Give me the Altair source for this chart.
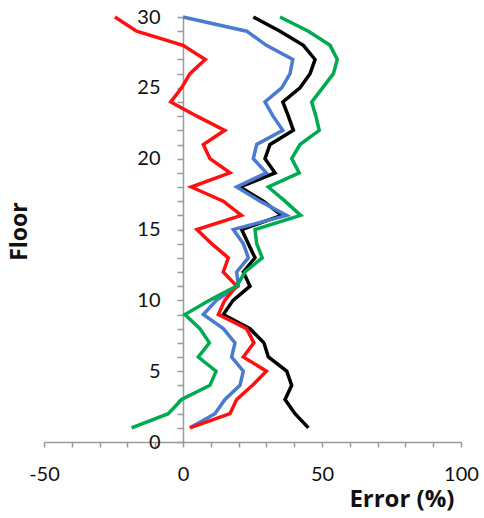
import altair as alt
import pandas as pd

floors = list(range(1, 31))
red = [2.5, 16.9, 19.3, 25, 30, 21.7, 25.5, 22.9, 12.7, 15, 19.3, 14.5, 16.3, 10.3, 5, 21, 14.5, 3, 16.9, 9.7,
       7.3, 15, 5, -4.4, -0.5, 2.5, 8, 0, -16.7, -24.5]
blue = [2.5, 11.5, 15.1, 20.5, 21.7, 17.5, 18.7, 14.5, 7.3, 12, 19.9, 19.3, 23.5, 21.7, 18.1, 37.3, 27.7, 19.3, 30, 25.3,
        26.5, 35.9, 32.4, 29.5, 35.5, 38.5, 39.5, 30, 22.9, 0]
black = [45.1, 40.3, 36.7, 39.1, 37.3, 30.7, 29.1, 24.1, 14.5, 18, 24.1, 21.7, 25.9, 23.5, 21.1, 35.5, 28.9, 20.5, 33.1, 29.5,
         31.3, 39.7, 37.9, 35.9, 42.1, 45.7, 47.5, 43.3, 34.9, 25.3]
green = [-18.5, -5.3, -0.5, 9.7, 11.9, 5.5, 9.5, 6.1, 0.7, 9.5, 19.3, 22.3, 28.5, 26.5, 25.9, 42.3, 36.7, 30.7, 41.8, 39.1,
         42.1, 49, 47.8, 46.3, 50.2, 54.1, 55.5, 52.9, 45.1, 34.9]

series = {"black": black, "blue": blue, "red": red, "green": green}
colors = {"black": "#000000", "blue": "#4a7bd0", "red": "#ff1010", "green": "#00aa50"}

rows = []
for name, vals in series.items():
    for f, v in zip(floors, vals):
        rows.append({"series": name, "floor": f, "error": v})
df = pd.DataFrame(rows)

FONT = "Lato"
TFONT = "Open Sans"
x_ticks = list(range(-50, 101, 10))
y_ticks = list(range(0, 31))

xenc = alt.X(
    "error:Q",
    scale=alt.Scale(domain=[-50, 100], nice=False, zero=False),
    axis=alt.Axis(
        values=x_ticks,
        labelExpr="datum.value % 50 == 0 ? '' + datum.value : ''",
        grid=False,
        domainColor="#9a9a9a", domainWidth=1.5,
        tickColor="#9a9a9a", tickWidth=1.5, tickSize=5,
        labelFont=FONT, labelFontSize=20, labelColor="#111111", labelPadding=17,
        labelFlush=False,
        title="Error (%)", titleFont=TFONT, titleFontSize=24, titleFontWeight="bold",
        titleColor="#111111", titleX=410, titleY=64, titleAlign="right",
        titleBaseline="alphabetic", titleAnchor="end",
    ),
)
yenc = alt.Y(
    "floor:Q",
    scale=alt.Scale(domain=[0, 30], nice=False),
    axis=alt.Axis(
        values=y_ticks,
        offset=-139,
        labelExpr="datum.value % 5 == 0 ? '' + datum.value : ''",
        grid=False,
        domainColor="#9a9a9a", domainWidth=1.5,
        tickColor="#9a9a9a", tickWidth=1.5, tickSize=6,
        labelFont=FONT, labelFontSize=20, labelColor="#111111", labelPadding=17,
        labelFlush=False,
        title="Floor", titleFont=TFONT, titleFontSize=23, titleFontWeight="bold",
        titleColor="#111111", titleAngle=-90, titleX=-164, titleY=214,
        titleAlign="center", titleBaseline="middle",
    ),
)

layers = []
for name in ["black", "blue", "red", "green"]:
    layers.append(
        alt.Chart(df)
        .transform_filter(alt.datum.series == name)
        .mark_line(color=colors[name], strokeWidth=3.5, strokeJoin="miter", strokeCap="butt")
        .encode(x=xenc, y=yenc, order="floor:Q")
    )

chart = (
    alt.layer(*layers)
    .properties(
        width=417, height=425,
        autosize=alt.AutoSizeParams(type="none"),
        padding={"left": 44, "top": 17, "right": 23, "bottom": 76},
        background="white",
    )
    .configure_view(stroke=None)
)

chart.save("out.html", embed_options={"renderer": "svg", "actions": False})
